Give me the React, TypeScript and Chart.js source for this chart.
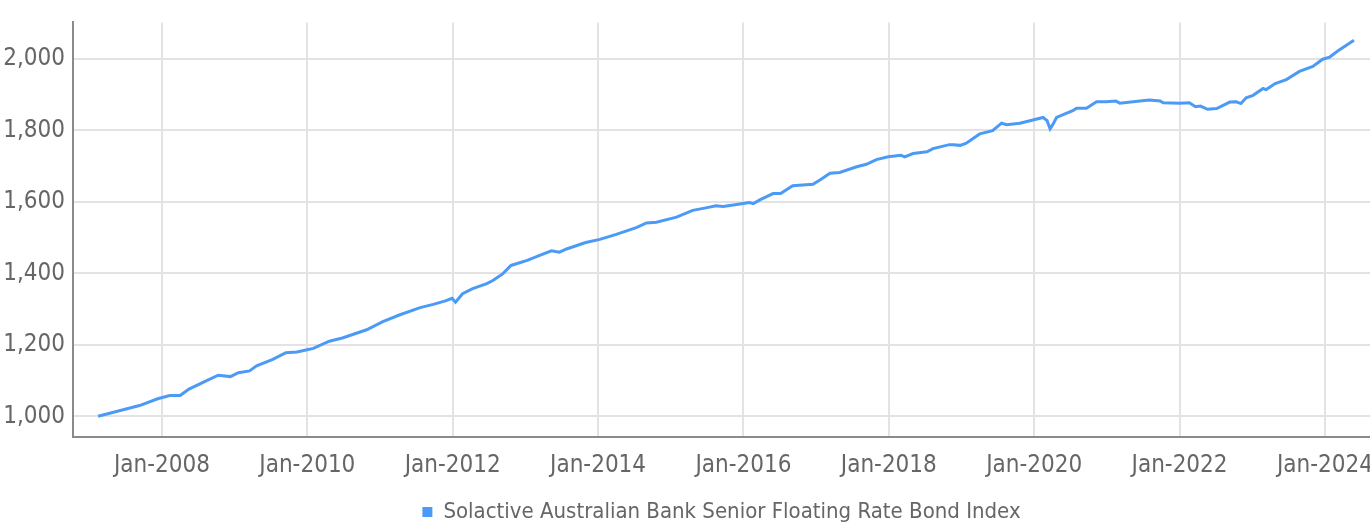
import React, { useEffect, useRef } from "react";
import { Chart, registerables } from "chart.js";

Chart.register(...registerables);

const SERIES_NAME = "Solactive Australian Bank Senior Floating Rate Bond Index";

const DATES = [
  "2007-02-15", "2007-09-10", "2007-12-10", "2008-02-10", "2008-04-01", "2008-05-15",
  "2008-08-10", "2008-10-10", "2008-12-10", "2009-01-20", "2009-03-15", "2009-04-20",
  "2009-07-10", "2009-09-15", "2009-11-10", "2010-01-05", "2010-02-01", "2010-04-20",
  "2010-06-25", "2010-10-25", "2011-01-15", "2011-04-10", "2011-07-20", "2011-09-25",
  "2011-11-25", "2011-12-28", "2012-01-15", "2012-02-20", "2012-04-10", "2012-06-20",
  "2012-07-20", "2012-09-10", "2012-10-20", "2012-11-25", "2013-01-10", "2013-03-15",
  "2013-05-10", "2013-06-20", "2013-07-25", "2013-10-30", "2014-01-10", "2014-04-01",
  "2014-07-10", "2014-09-01", "2014-10-20", "2015-01-30", "2015-04-20", "2015-06-25",
  "2015-08-15", "2015-09-20", "2015-10-25", "2016-02-01", "2016-02-20", "2016-03-25",
  "2016-05-28", "2016-07-05", "2016-09-05", "2016-12-15", "2017-01-20", "2017-03-10",
  "2017-04-28", "2017-07-22", "2017-09-10", "2017-10-30", "2017-12-28", "2018-03-01",
  "2018-03-20", "2018-05-01", "2018-07-10", "2018-08-10", "2018-11-01", "2018-11-20",
  "2018-12-25", "2019-01-25", "2019-04-01", "2019-06-05", "2019-07-20", "2019-08-15",
  "2019-10-20", "2019-12-25", "2020-02-15", "2020-03-05", "2020-03-20", "2020-04-05",
  "2020-04-22", "2020-07-15", "2020-08-01", "2020-09-20", "2020-11-10", "2020-12-28",
  "2021-02-15", "2021-03-05", "2021-06-15", "2021-08-01", "2021-09-25", "2021-10-10",
  "2022-01-01", "2022-02-20", "2022-03-20", "2022-04-15", "2022-05-20", "2022-07-05",
  "2022-09-10", "2022-10-12", "2022-11-05", "2022-12-01", "2023-01-05", "2023-02-25",
  "2023-03-10", "2023-04-25", "2023-06-20", "2023-08-25", "2023-11-01", "2023-12-20",
  "2024-01-25", "2024-03-12", "2024-05-25",
];

const VALUES = [
  1000, 1030, 1049, 1058, 1058, 1076,
  1099, 1115, 1111, 1122, 1127, 1141,
  1159, 1178, 1180, 1187, 1190, 1210,
  1219, 1242, 1265, 1284, 1304, 1313,
  1323, 1330, 1319, 1343, 1357, 1371,
  1380, 1399, 1422, 1428, 1436, 1451,
  1463, 1459, 1468, 1486, 1495, 1509,
  1528, 1541, 1543, 1557, 1576, 1583,
  1589, 1587, 1590, 1598, 1595, 1606,
  1623, 1623, 1645, 1649, 1661, 1680,
  1682, 1698, 1705, 1718, 1726, 1730,
  1726, 1735, 1740, 1749, 1760, 1760,
  1758, 1764, 1790, 1799, 1820, 1816,
  1820, 1829, 1836, 1827, 1804, 1818,
  1836, 1856, 1862, 1862, 1880, 1880,
  1882, 1876, 1882, 1885, 1882, 1877,
  1876, 1877, 1866, 1868, 1859, 1861,
  1879, 1880, 1875, 1891, 1898, 1917,
  1914, 1931, 1942, 1965, 1979, 1999,
  2005, 2025, 2052,
];

const X_TICK_YEARS = [2008, 2010, 2012, 2014, 2016, 2018, 2020, 2022, 2024];
const X_TICK_LABELS = ["Jan-2008", "Jan-2010", "Jan-2012", "Jan-2014", "Jan-2016", "Jan-2018", "Jan-2020", "Jan-2022", "Jan-2024"];
const Y_TICKS = [1000, 1200, 1400, 1600, 1800, 2000];

const LINE_COLOR = "#4b9bf6";
const TEXT_COLOR = "#666666";
const FONT_FAMILY = "'DejaVu Sans Condensed', 'Liberation Sans Narrow', 'Roboto', sans-serif";

function toYear(d: string): number {
  const [y, m, dd] = d.split("-").map(Number);
  return y + (m - 1) / 12 + (dd - 1) / 365;
}

export default function App() {
  const ref = useRef<HTMLCanvasElement | null>(null);

  useEffect(() => {
    document.body.style.margin = "0";
    if (!ref.current) return;
    const points = DATES.map((d, i) => ({ x: toYear(d), y: VALUES[i] }));
    const chart = new Chart(ref.current, {
      type: "line",
      data: {
        datasets: [
          {
            label: SERIES_NAME,
            data: points,
            borderColor: LINE_COLOR,
            backgroundColor: LINE_COLOR,
            borderWidth: 3,
            pointRadius: 0,
            tension: 0,
          },
        ],
      },
      options: {
        animation: false,
        responsive: false,
        maintainAspectRatio: false,
        layout: { padding: { top: 17, right: 0, left: 0, bottom: 0 } },
        plugins: {
          tooltip: { enabled: false },
          legend: {
            position: "bottom",
            fullSize: false,
            maxHeight: 28,
            labels: {
              boxWidth: 10,
              boxHeight: 10,
              padding: 4,
              color: TEXT_COLOR,
              font: { family: FONT_FAMILY, size: 22 },
              generateLabels: () => [
                {
                  text: SERIES_NAME,
                  fillStyle: LINE_COLOR,
                  strokeStyle: LINE_COLOR,
                  fontColor: TEXT_COLOR,
                  lineWidth: 0,
                  datasetIndex: 0,
                  hidden: false,
                },
              ],
            },
          },
        },
        scales: {
          x: {
            type: "linear",
            min: 2006.776,
            max: 2024.62,
            afterBuildTicks: (s: any) => {
              s.ticks = X_TICK_YEARS.map((v) => ({ value: v }));
            },
            afterFit: (s: any) => {
              s.paddingLeft = 0;
              s.paddingRight = 0;
              s.height = 60;
            },
            ticks: {
              autoSkip: false,
              maxRotation: 0,
              padding: 14,
              color: TEXT_COLOR,
              font: { family: FONT_FAMILY, size: 24 },
              callback: (v: any) => {
                const i = X_TICK_YEARS.indexOf(Number(v));
                return i >= 0 ? X_TICK_LABELS[i] : "";
              },
            },
            grid: { color: "#e3e3e3", lineWidth: 2, drawTicks: false },
            border: { color: "#8a8a8a", width: 2 },
          },
          y: {
            type: "linear",
            min: 942,
            max: 2102,
            afterBuildTicks: (s: any) => {
              s.ticks = Y_TICKS.map((v) => ({ value: v }));
            },
            afterFit: (s: any) => {
              s.width = 73;
            },
            ticks: {
              padding: 8,
              color: TEXT_COLOR,
              font: { family: FONT_FAMILY, size: 24 },
              callback: (v: any) => Number(v).toLocaleString("en-US"),
            },
            grid: { color: "#e3e3e3", lineWidth: 2, drawTicks: false },
            border: { color: "#8a8a8a", width: 2 },
          },
        },
      },
    });
    return () => chart.destroy();
  }, []);

  return (
    <div style={{ position: "absolute", left: 0, top: 0, width: 1370, height: 525 }}>
      <canvas ref={ref} width={1370} height={525} style={{ display: "block" }} />
    </div>
  );
}
